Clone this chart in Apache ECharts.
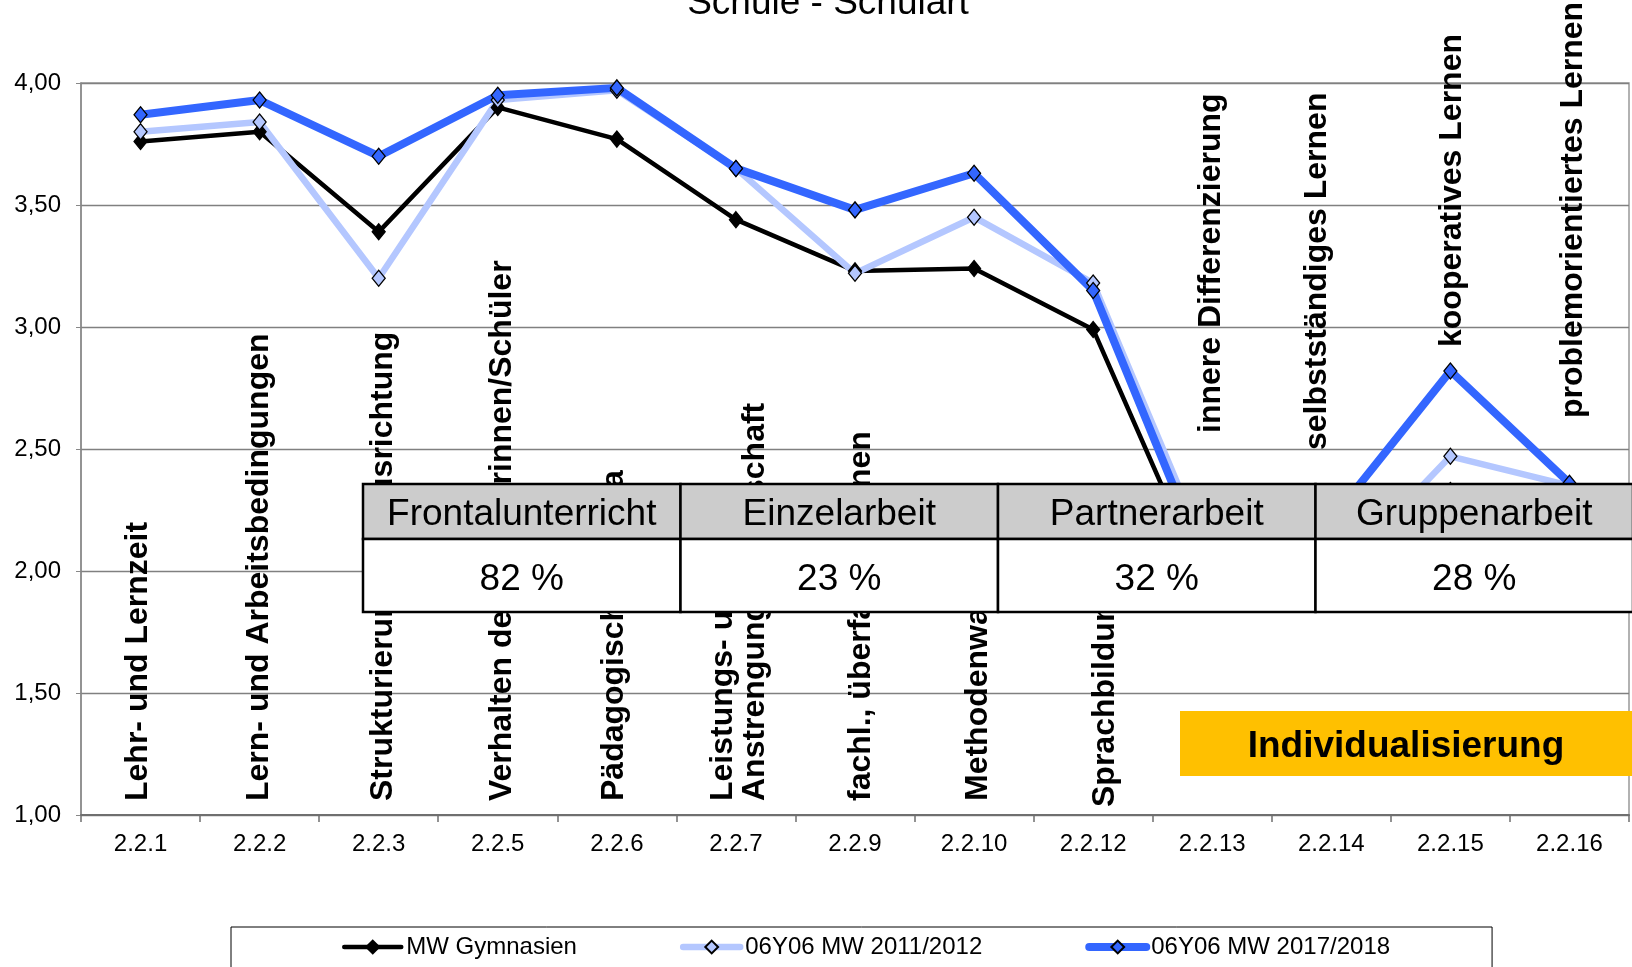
<!DOCTYPE html>
<html><head><meta charset="utf-8">
<script src="https://cdn.jsdelivr.net/npm/echarts@6/dist/echarts.min.js"></script>
<style>html,body{margin:0;padding:0;background:#fff}#c{width:1632px;height:967px}</style>
</head><body><div id="c"></div>
<script>
// ---- data ----
const categories = ['2.2.1','2.2.2','2.2.3','2.2.5','2.2.6','2.2.7','2.2.9','2.2.10','2.2.12','2.2.13','2.2.14','2.2.15','2.2.16'];
const criteria = [
  'Lehr- und Lernzeit',
  'Lern- und Arbeitsbedingungen',
  'Strukturierung/Zielausrichtung',
  'Verhalten der Schülerinnen/Schüler',
  'Pädagogisches Klima',
  'Leistungs- und\nAnstrengungsbereitschaft',
  'fachl., überfachl. Lernen',
  'Methodenwahl',
  'Sprachbildung',
  'innere Differenzierung',
  'selbstständiges Lernen',
  'kooperatives Lernen',
  'problemorientiertes Lernen'
];
const seriesNames = ['MW Gymnasien', '06Y06 MW 2011/2012', '06Y06 MW 2017/2018'];
const mwGymnasien = [3.76, 3.80, 3.39, 3.90, 3.77, 3.44, 3.23, 3.24, 2.99, 1.88, 1.93, 2.33, 2.05];
const mw2011 = [3.80, 3.84, 3.20, 3.93, 3.97, 3.65, 3.22, 3.45, 3.18, 2.02, 1.96, 2.47, 2.35];
const mw2017 = [3.87, 3.93, 3.70, 3.95, 3.98, 3.65, 3.48, 3.63, 3.15, 1.96, 2.21, 2.82, 2.36];
const tableHeaders = ['Frontalunterricht', 'Einzelarbeit', 'Partnerarbeit', 'Gruppenarbeit'];
const tableValues = ['82 %', '23 %', '32 %', '28 %'];
const titleText = 'Schule - Schulart';
const boxText = 'Individualisierung';

// ---- layout (positions, not data) ----
const labelDx = [-2, 0, 4, 4, -3, 3, 6, 4, 12, -1, -14, 2, 4];
const labelBottom = [801, 801, 801, 801, 801, 801, 801, 801, 807, 433, 450, 347, 418];

const FF = '"Liberation Sans", Arial, sans-serif';
const chart = echarts.init(document.getElementById('c'));

function lineSeries(name, data, color, width, symColor) {
  return {
    name, type: 'line', data,
    symbol: 'diamond', symbolSize: [13, 16],
    lineStyle: { color, width, cap: 'round', join: 'round' },
    itemStyle: { color: symColor, borderColor: '#000', borderWidth: 1.3 },
    emphasis: { disabled: true },
    animation: false
  };
}

const option = {
  animation: false,
  backgroundColor: '#fff',
  title: {
    text: titleText, left: 823, top: -20, textAlign: 'center',
    textStyle: { fontFamily: FF, fontSize: 37, fontWeight: 'normal', color: '#000' }
  },
  grid: { left: 81, right: 3, top: 83, bottom: 152, show: true, borderColor: '#999', borderWidth: 1.5 },
  legend: {
    left: 231, top: 927, orient: 'horizontal',
    padding: [8, 102, 40, 111],
    borderColor: '#000', borderWidth: 1,
    itemGap: 103, itemWidth: 57, itemHeight: 16,
    lineStyle: { width: 'inherit', cap: 'round' },
    textStyle: { fontFamily: FF, fontSize: 24, color: '#000' },
    data: seriesNames
  },
  xAxis: {
    type: 'category', data: categories, boundaryGap: true,
    axisLine: { lineStyle: { color: '#6f6f6f', width: 2 } },
    axisTick: { show: true, length: 7, lineStyle: { color: '#6f6f6f', width: 1.5 } },
    axisLabel: { fontFamily: FF, fontSize: 24, color: '#000', margin: 17, interval: 0 },
    splitLine: { show: false }
  },
  yAxis: {
    type: 'value', min: 1, max: 4, interval: 0.5,
    axisLine: { show: true, lineStyle: { color: '#888', width: 1.5 } },
    axisTick: { show: true, length: 5, lineStyle: { color: '#888' } },
    axisLabel: { fontFamily: FF, fontSize: 24, color: '#000', margin: 20,
      formatter: v => v.toFixed(2).replace('.', ',') },
    splitLine: { lineStyle: { color: '#808080', width: 1.3 } }
  },
  series: [
    lineSeries(seriesNames[0], mwGymnasien, '#000000', 4.5, '#000000'),
    lineSeries(seriesNames[1], mw2011, '#b4c7ff', 6.5, '#b4c7ff'),
    lineSeries(seriesNames[2], mw2017, '#3366ff', 8, '#3366ff')
  ]
};
chart.setOption(option);

// annotation graphics
const graphics = [];
criteria.forEach((t, i) => {
  const x = chart.convertToPixel({ xAxisIndex: 0 }, categories[i]) + labelDx[i];
  graphics.push({
    type: 'text', x: x, y: labelBottom[i], rotation: Math.PI / 2, z: 5,
    style: { text: t, fontFamily: FF, fontSize: 32, fontWeight: 'bold', fill: '#000',
      align: 'left', verticalAlign: 'middle', lineHeight: 32 }
  });
});
// table
const tx0 = 363, colW = 317.5, ty0 = 484, h1 = 55, h2 = 73;
tableHeaders.forEach((h, i) => {
  const x = tx0 + i * colW;
  graphics.push({ type: 'rect', z: 100, shape: { x, y: ty0, width: colW, height: h1 },
    style: { fill: '#cccccc', stroke: '#000', lineWidth: 2.5 } });
  graphics.push({ type: 'rect', z: 100, shape: { x, y: ty0 + h1, width: colW, height: h2 },
    style: { fill: '#ffffff', stroke: '#000', lineWidth: 2.5 } });
  graphics.push({ type: 'text', z: 101, x: x + colW / 2, y: ty0 + h1 / 2 + 3,
    style: { text: h, fontFamily: FF, fontSize: 37, fill: '#000', align: 'center', verticalAlign: 'middle' } });
  graphics.push({ type: 'text', z: 101, x: x + colW / 2, y: ty0 + h1 + h2 / 2 + 4,
    style: { text: tableValues[i], fontFamily: FF, fontSize: 37, fill: '#000', align: 'center', verticalAlign: 'middle' } });
});
// Individualisierung box
graphics.push({ type: 'rect', z: 100, shape: { x: 1180, y: 711, width: 470, height: 65 },
  style: { fill: '#ffc000' } });
graphics.push({ type: 'text', z: 101, x: 1406, y: 747,
  style: { text: boxText, fontFamily: FF, fontSize: 37, fontWeight: 'bold', fill: '#000', align: 'center', verticalAlign: 'middle' } });

chart.setOption({ graphic: graphics });
</script>
</body></html>
